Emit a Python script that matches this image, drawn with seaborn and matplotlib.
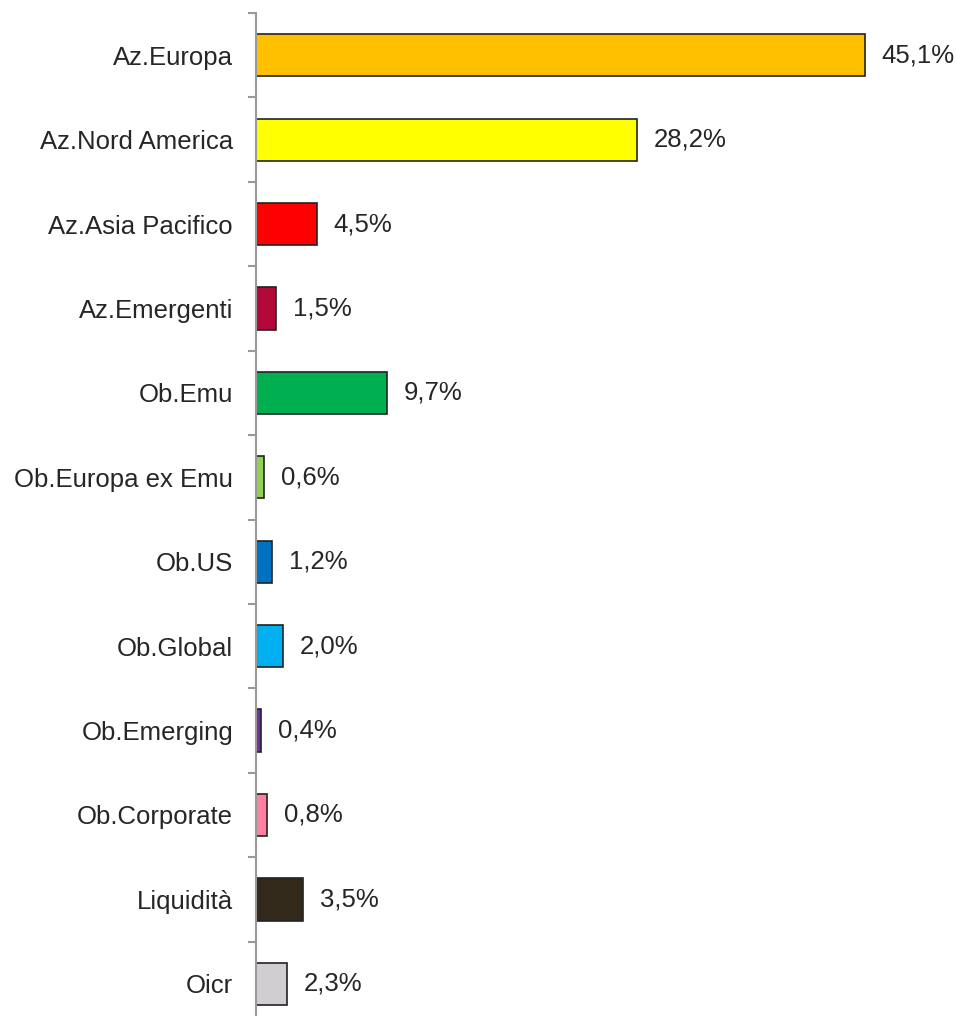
import pandas as pd
import numpy as np
import matplotlib.pyplot as plt
import seaborn as sns

# data
categories = ['Az.Europa', 'Az.Nord America', 'Az.Asia Pacifico', 'Az.Emergenti',
              'Ob.Emu', 'Ob.Europa ex Emu', 'Ob.US', 'Ob.Global', 'Ob.Emerging',
              'Ob.Corporate', 'Liquidità', 'Oicr']
values = [45.1, 28.2, 4.5, 1.5, 9.7, 0.6, 1.2, 2.0, 0.4, 0.8, 3.5, 2.3]
colors = ['#FFC000', '#FFFF00', '#FF0000', '#B4083A', '#00B050', '#92D050',
          '#0070C0', '#00B0F0', '#7030A0', '#FF7FA0', '#32291A', '#D0CED0']

df = pd.DataFrame({'cat': categories, 'val': values})

sns.set_style('white')
plt.rcParams['font.family'] = ['Liberation Sans Narrow', 'Liberation Sans', 'DejaVu Sans']

fig = plt.figure(figsize=(9.57, 10.16), dpi=100)
ax = fig.add_axes([256 / 957, 0, 701 / 957, 1003 / 1016])

sns.barplot(data=df, y='cat', x='val', hue='cat', palette=colors, legend=False,
            orient='h', width=0.5, saturation=1, edgecolor='#222222', linewidth=1.2, ax=ax)

ax.set_xlim(0, 701 / 13.5)
ax.set_ylim(-0.5 + 1003 / 84.42, -0.5)

for i, v in enumerate(values):
    ax.text(v + 1.25, i, f'{v:.1f}%'.replace('.', ','), va='center', ha='left',
            fontsize=18.5, color='#262626')

ax.set_xlabel('')
ax.set_ylabel('')
ax.set_xticks([])
ax.set_yticks(range(len(categories)))
ax.set_yticklabels(categories, fontsize=18.5, color='#262626')
ax.tick_params(axis='y', which='major', left=False, length=0, pad=16.5)
ax.set_yticks(np.arange(-0.5, len(categories) - 0.5, 1), minor=True)
ax.tick_params(axis='y', which='minor', left=True, length=6, width=1.5, color='#999999')

for s in ['top', 'right', 'bottom']:
    ax.spines[s].set_visible(False)
ax.spines['left'].set_color('#999999')
ax.spines['left'].set_linewidth(1.5)

fig.savefig('out.png', dpi=100)
